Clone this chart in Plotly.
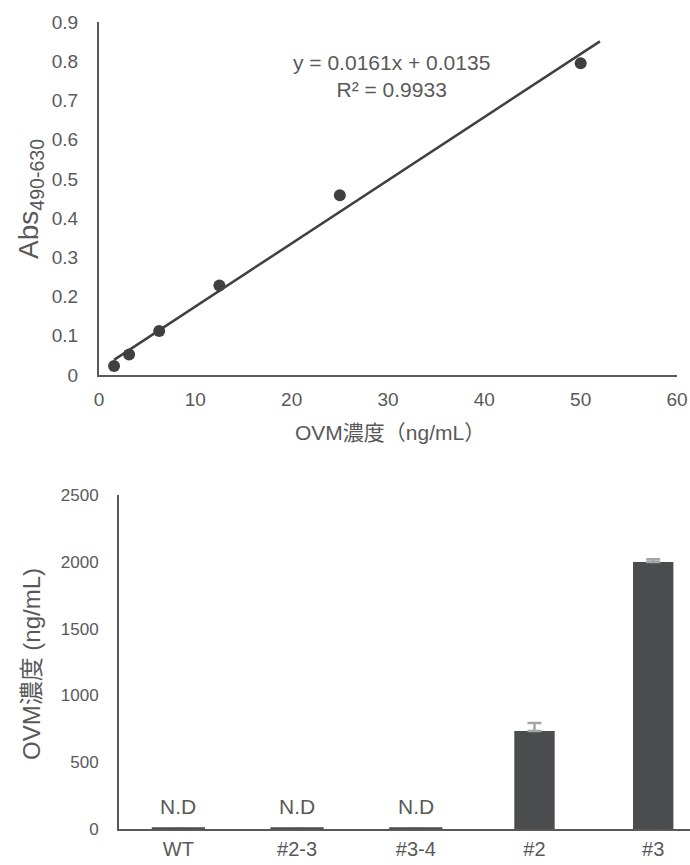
import plotly.graph_objects as go

# ---- data: standard curve ----
std_conc = [1.5625, 3.125, 6.25, 12.5, 25, 50]
std_abs = [0.023, 0.052, 0.112, 0.228, 0.458, 0.795]
fit_slope = 0.0161
fit_intercept = 0.0135
fit_x_end = 52
r_squared = 0.9933

# ---- data: samples ----
samples = ["WT", "#2-3", "#3-4", "#2", "#3"]
ovm_conc = [0, 0, 0, 733, 1998]
ovm_err = [0, 0, 0, 60, 22]
nd_samples = ["WT", "#2-3", "#3-4"]
nd_values = [0, 0, 0]

W, H = 690, 865
FONT = "Liberation Sans, Arial, Noto Sans CJK JP, sans-serif"
TXT = "#595959"
AX = "#595959"

def px_x(p):
    return p / W

def px_y(p):
    return 1 - p / H

fig = go.Figure()

# trend line
fit_x = [std_conc[0], fit_x_end]
fit_y = [fit_slope * v + fit_intercept for v in fit_x]
fig.add_trace(go.Scatter(x=fit_x, y=fit_y, mode="lines",
                         line=dict(color="#404040", width=2.5),
                         xaxis="x", yaxis="y", showlegend=False, hoverinfo="skip"))
fig.add_trace(go.Scatter(x=std_conc, y=std_abs, mode="markers",
                         marker=dict(color="#404040", size=12),
                         xaxis="x", yaxis="y", showlegend=False))

# bars
fig.add_trace(go.Bar(x=samples, y=ovm_conc, width=0.34,
                     marker=dict(color="#4b4c4e", line=dict(width=0)),
                     error_y=dict(type="data", array=ovm_err, symmetric=False,
                                  arrayminus=[0] * len(ovm_err), color="#a5a5a5",
                                  thickness=2.5, width=7),
                     xaxis="x2", yaxis="y2", showlegend=False))
# N.D markers at zero
fig.add_trace(go.Scatter(x=nd_samples, y=nd_values, mode="markers",
                         marker=dict(symbol="line-ew", size=38,
                                     line=dict(color="#4b4c4e", width=3.5)),
                         xaxis="x2", yaxis="y2", showlegend=False, cliponaxis=False,
                         hoverinfo="skip"))

def axis_common(size):
    return dict(showline=True, linecolor=AX, linewidth=2, showgrid=False,
                zeroline=False, ticks="", automargin=False,
                tickfont=dict(size=size, color=TXT, family=FONT))

fig.update_layout(
    width=W, height=H,
    margin=dict(l=0, r=0, t=0, b=0, autoexpand=False),
    paper_bgcolor="white", plot_bgcolor="white",
    font=dict(family=FONT, color=TXT),
    xaxis=dict(domain=[px_x(99), px_x(677)], range=[0, 60], dtick=10,
               anchor="y", ticklabelstandoff=6, **axis_common(19)),
    yaxis=dict(domain=[px_y(375), px_y(22)], range=[0, 0.9], dtick=0.1,
               anchor="x", ticklabelstandoff=15, **axis_common(19)),
    xaxis2=dict(domain=[px_x(119), 1.0], range=[-0.5, 4.31],
                anchor="y2", ticklabelstandoff=1, **axis_common(20)),
    yaxis2=dict(domain=[px_y(829), px_y(495)], range=[0, 2500], dtick=500,
                anchor="x2", ticklabelstandoff=15, **axis_common(17)),
)

for s in nd_samples:
    fig.add_annotation(x=s, y=0, xref="x2", yref="y2", text="N.D",
                       showarrow=False, xanchor="center", yanchor="bottom", yshift=9,
                       font=dict(size=21, color=TXT, family=FONT))

def paper_text(x, y, text, size, angle=0):
    fig.add_annotation(x=px_x(x), y=px_y(y), xref="paper", yref="paper",
                       text=text, textangle=angle, showarrow=False,
                       xanchor="center", yanchor="middle", align="center",
                       font=dict(size=size, color=TXT, family=FONT))

paper_text(391, 76, f"y = {fit_slope}x + {fit_intercept}<br>R² = {r_squared}", 21)
paper_text(30, 199, "Abs<sub>490-630</sub>", 28, -90)
paper_text(390, 432, "OVM濃度（ng/mL）", 21)
paper_text(31, 664, "OVM濃度 (ng/mL)", 24, -90)

fig.write_html("out.html", config={"displayModeBar": False},
               post_script="document.body.style.margin='0';")
